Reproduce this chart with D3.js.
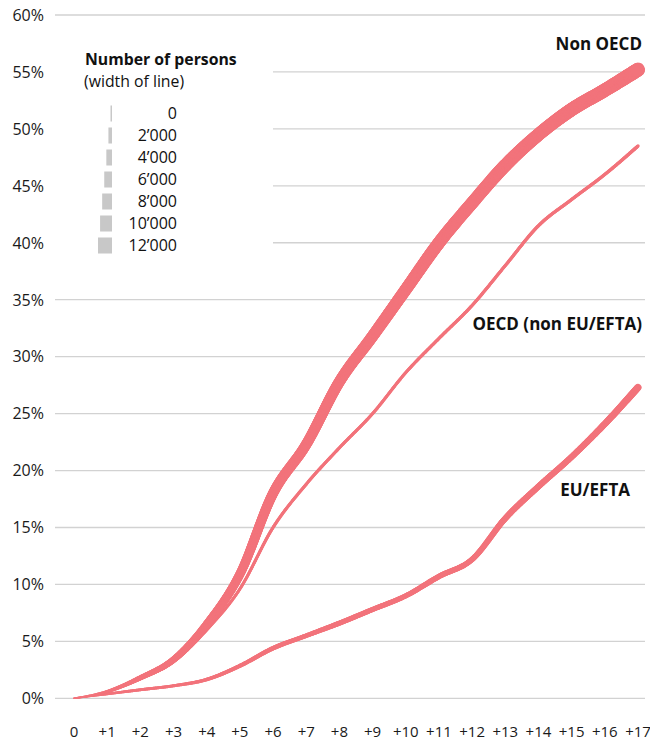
<!DOCTYPE html>
<html><head><meta charset="utf-8">
<script src="https://cdn.jsdelivr.net/npm/d3@7/dist/d3.min.js"></script>
<style>body{margin:0;background:#fff} svg text{font-family:"Open Sans",sans-serif}</style>
</head><body><svg id="c" width="650" height="744"></svg>
<script>
const yearLabels = ["0","+1","+2","+3","+4","+5","+6","+7","+8","+9","+10","+11","+12","+13","+14","+15","+16","+17"];
const yearIndex  = [0,1,2,3,4,5,6,7,8,9,10,11,12,13,14,15,16,17];

const nonOecdRate    = [0,0.6,1.8,3.4,6.5,10.9,18.0,22.3,27.8,31.8,35.9,40.0,43.5,46.8,49.5,51.7,53.4,55.2];
const nonOecdPersons = [0,1400,3400,4800,6200,7200,8200,8600,9100,9600,10100,10600,10600,11000,11000,11500,11500,12000];

const oecdRate    = [0,0.55,1.7,3.2,6.0,9.6,15.0,18.8,22.0,25.0,28.6,31.6,34.5,38.0,41.5,43.8,46.0,48.5];
const oecdPersons = [0,500,900,1200,1300,1400,1500,1500,1500,1500,1500,1600,1600,1600,1700,1700,1700,1800];

const euRate    = [0,0.38,0.75,1.1,1.65,2.85,4.4,5.5,6.6,7.8,9.0,10.7,12.2,15.8,18.6,21.2,24.1,27.3];
const euPersons = [0,1000,1400,1400,1900,2400,2900,2900,3400,3400,3400,3800,3800,4300,4300,4300,4800,5300];

const seriesNames = ["EU/EFTA","OECD (non EU/EFTA)","Non OECD"];
const yTicks = [0,5,10,15,20,25,30,35,40,45,50,55,60];
const legendValues = [0,2000,4000,6000,8000,10000,12000];
const legendLabels = ["0","2’000","4’000","6’000","8’000","10’000","12’000"];

const color = "#f2737b";
const svg = d3.select("#c");

const x = d3.scalePoint().domain(yearLabels).range([74,638]);
const y = d3.scaleLinear().domain([0,60]).range([698.3,15]);
const w = d3.scaleLinear().domain([0,12000]).range([1.5,14]);
const pxToIndex = d3.scaleLinear().domain([x(yearLabels[0]), x(yearLabels[17])]).range([0,17]);

// gridlines
svg.append("g").selectAll("line").data(yTicks).join("line")
  .attr("x1", d => (d >= 40 && d <= 55) ? 273 : 55)
  .attr("x2", 645)
  .attr("y1", d => y(d)).attr("y2", d => y(d))
  .attr("stroke", "#d2d2d2").attr("stroke-width", 1.3);

// y labels
svg.append("g").selectAll("text").data(yTicks).join("text")
  .attr("x", 44).attr("y", d => y(d) + 5.8)
  .attr("text-anchor","end").attr("font-size",16).attr("fill","#1a1a1a")
  .text(d => d + "%");

// x labels
svg.append("g").selectAll("text").data(yearLabels).join("text")
  .attr("x", d => x(d)).attr("y", 737)
  .attr("text-anchor","middle").attr("font-size",15).attr("fill","#1a1a1a")
  .text(d => d);

// variable-width lines
function drawSeries(rates, persons) {
  const pts = yearLabels.map((d,i) => [x(d), y(rates[i])]);
  const pathD = d3.line().curve(d3.curveMonotoneX)(pts);
  const tmp = svg.append("path").attr("d", pathD).attr("fill","none").attr("stroke","none");
  const node = tmp.node();
  const L = node.getTotalLength();
  const personsAt = d3.scaleLinear().domain(yearIndex).range(persons);
  const samples = [];
  for (let s = 0; s <= L; s += 1) samples.push(node.getPointAtLength(s));
  samples.push(node.getPointAtLength(L));
  tmp.remove();
  const g = svg.append("g");
  for (let k = 0; k < samples.length - 1; k++) {
    const a = samples[k], b = samples[k+1];
    const idx = pxToIndex((a.x + b.x) / 2);
    g.append("line")
      .attr("x1", a.x).attr("y1", a.y).attr("x2", b.x).attr("y2", b.y)
      .attr("stroke", color).attr("stroke-width", w(personsAt(idx)))
      .attr("stroke-linecap","round");
  }
}
drawSeries(euRate, euPersons);
drawSeries(oecdRate, oecdPersons);
drawSeries(nonOecdRate, nonOecdPersons);

// series labels
const lab = svg.append("g").attr("font-weight",700).attr("font-size",17).attr("fill","#111").attr("text-anchor","end");
lab.append("text").attr("x",642).attr("y",50).text(seriesNames[2]);
lab.append("text").attr("x",642).attr("y",330).text(seriesNames[1]);
lab.append("text").attr("x",630).attr("y",496).text(seriesNames[0]);

// legend
const lg = svg.append("g");
lg.append("text").attr("x",85).attr("y",65).attr("font-size",15.8).attr("font-weight",700).attr("fill","#111").text("Number of persons");
lg.append("text").attr("x",84).attr("y",87).attr("font-size",15.8).attr("fill","#111").text("(width of line)");
const rows = lg.selectAll("g.row").data(legendValues).join("g").attr("class","row")
  .attr("transform",(d,i) => `translate(0,${119 + i*22})`);
rows.append("rect")
  .attr("x", d => 112 - w(d)).attr("y", -13.5)
  .attr("width", d => w(d)).attr("height", 16)
  .attr("fill", "#c8c8c8");
rows.append("text").attr("x",177).attr("y",0).attr("text-anchor","end")
  .attr("font-size",16).attr("fill","#111").text((d,i) => legendLabels[i]);
</script></body></html>
